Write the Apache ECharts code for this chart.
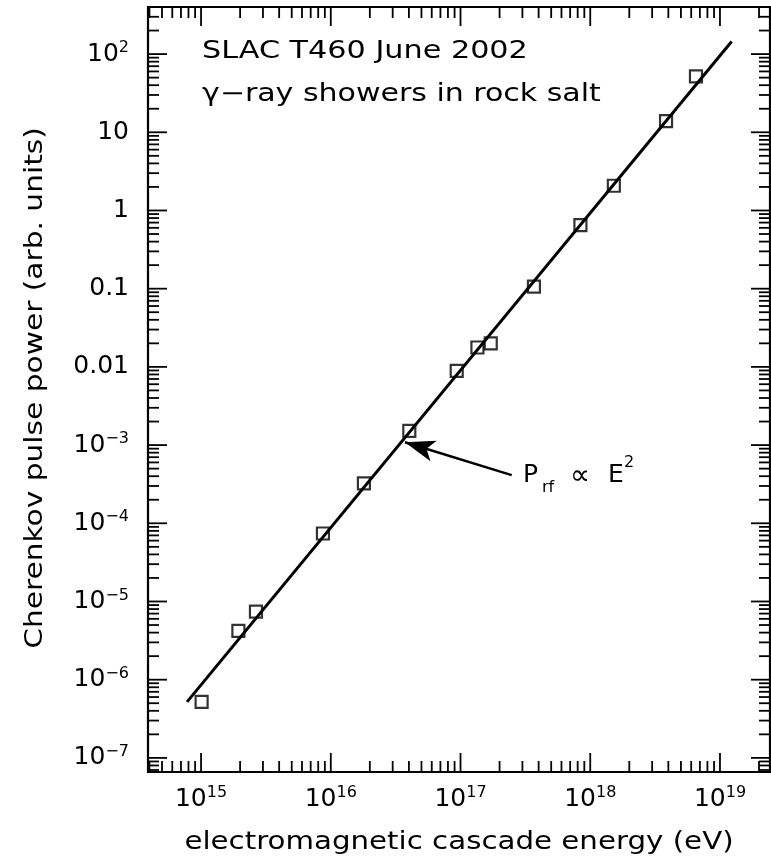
<!DOCTYPE html>
<html><head><meta charset="utf-8">
<script src="https://cdn.jsdelivr.net/npm/echarts@6/dist/echarts.min.js"></script>
<style>html,body{margin:0;padding:0;background:#fff}#c{width:771px;height:858px}</style>
</head><body><div id="c"></div><script>
// ---- data ----
const energy = [1.01e15, 1.94e15, 2.65e15, 8.7e15, 1.80e16, 4.03e16, 9.35e16, 1.35e17, 1.71e17, 3.68e17, 8.4e17, 1.52e18, 3.84e18, 6.53e18];
const power  = [5.2e-7, 4.2e-6, 7.4e-6, 7.4e-5, 3.24e-4, 1.52e-3, 8.9e-3, 1.77e-2, 2.0e-2, 0.106, 0.65, 2.07, 13.9, 52];
const fitEnergy = [7.8e14, 1.23e19];
const fitPower  = [5.2e-7, 1.45e2];
const arrowEnergy = [2.48e17, 3.73e16];
const arrowPower  = [4.13e-4, 1.09e-3];
const xTickExps = [15, 16, 17, 18, 19];
const xTickBase = ['10', '10', '10', '10', '10'];
const xTickSup  = ['15', '16', '17', '18', '19'];
const yTickExps = [-7, -6, -5, -4, -3, -2, -1, 0, 1, 2];
const yTickBase = ['10', '10', '10', '10', '10', '0.01', '0.1', '1', '10', '10'];
const yTickSup  = ['−7', '−6', '−5', '−4', '−3', '', '', '', '', '2'];
const minorMantissas = [2, 3, 4, 5, 6, 7, 8, 9];
const xMin = 3.9e14, xMax = 2.43e19, yMin = 6.6e-8, yMax = 400;

const FONT = '"DejaVu Sans", sans-serif';

// tick marks on all four sides (major at decades, minor at 2..9)
const tickData = [];
for (let k = 14; k <= 19; k++) {
  const d = Math.pow(10, k);
  if (d > xMin && d < xMax) tickData.push([d, 1, 0]);
  minorMantissas.forEach(m => { const v = m * d; if (v > xMin && v < xMax) tickData.push([v, 1, 1]); });
}
for (let k = -8; k <= 2; k++) {
  const d = Math.pow(10, k);
  if (d > yMin && d < yMax) tickData.push([1e16, d, 2]);
  minorMantissas.forEach(m => { const v = m * d; if (v > yMin && v < yMax) tickData.push([1e16, v, 3]); });
}

function renderTick(params, api) {
  const cs = params.coordSys;
  const kind = api.value(2);
  const p = api.coord([api.value(0), api.value(1)]);
  const len = (kind === 0 || kind === 2) ? 19 : 11;
  const style = { stroke: '#000', lineWidth: 1.8 };
  let shapes;
  if (kind < 2) {
    const x = p[0], b = cs.y + cs.height, t = cs.y;
    shapes = [
      { type: 'line', shape: { x1: x, y1: b, x2: x, y2: b - len }, style },
      { type: 'line', shape: { x1: x, y1: t, x2: x, y2: t + len }, style }
    ];
  } else {
    const y = p[1], l = cs.x, r = cs.x + cs.width;
    shapes = [
      { type: 'line', shape: { x1: l, y1: y, x2: l + len, y2: y }, style },
      { type: 'line', shape: { x1: r, y1: y, x2: r - len, y2: y }, style }
    ];
  }
  return { type: 'group', children: shapes };
}

function findExp(v, exps) {
  const e = Math.log10(v), r = Math.round(e);
  if (Math.abs(e - r) > 1e-6) return -1;
  return exps.indexOf(r);
}
const rich = {
  b: { fontFamily: FONT, fontSize: 25, lineHeight: 28, color: '#000' },
  s: { fontFamily: FONT, fontSize: 16, lineHeight: 18, verticalAlign: 'top', color: '#000' }
};

const chart = echarts.init(document.getElementById('c'), null, { renderer: 'canvas' });
chart.setOption({
  animation: false,
  backgroundColor: '#fff',
  grid: { left: 148, top: 7, right: 1, bottom: 86, show: true, borderColor: '#000', borderWidth: 2.2, backgroundColor: 'transparent' },
  xAxis: {
    type: 'log', logBase: 10, min: xMin, max: xMax, splitNumber: 5,
    axisLine: { show: false }, axisTick: { show: false }, splitLine: { show: false },
    axisLabel: {
      margin: 13, showMinLabel: false, showMaxLabel: false, rich,
      formatter: v => { const i = findExp(v, xTickExps); return i < 0 ? '' : '{b|' + xTickBase[i] + '}{s|' + xTickSup[i] + '}'; }
    }
  },
  yAxis: {
    type: 'log', logBase: 10, min: yMin, max: yMax, splitNumber: 10,
    axisLine: { show: false }, axisTick: { show: false }, splitLine: { show: false },
    axisLabel: {
      margin: 19, showMinLabel: false, showMaxLabel: false, rich,
      formatter: v => {
        const i = findExp(v, yTickExps);
        if (i < 0) return '';
        return yTickSup[i] ? '{b|' + yTickBase[i] + '}{s|' + yTickSup[i] + '}' : '{b|' + yTickBase[i] + '}';
      }
    }
  },
  series: [
    {
      type: 'custom', renderItem: renderTick, data: tickData, silent: true, z: 5,
      encode: { x: 0, y: 1 }, clip: false
    },
    {
      type: 'line', data: fitEnergy.map((e, i) => [e, fitPower[i]]), showSymbol: false, symbol: 'none',
      lineStyle: { color: '#000', width: 3 }, silent: true, z: 3,
      markLine: {
        silent: true, symbol: ['none', 'arrow'], symbolSize: [16, 30],
        label: { show: false },
        lineStyle: { color: '#000', width: 2.6, type: 'solid' },
        data: [[{ coord: [arrowEnergy[0], arrowPower[0]] }, { coord: [arrowEnergy[1], arrowPower[1]] }]]
      }
    },
    {
      type: 'scatter', data: energy.map((e, i) => [e, power[i]]), symbol: 'rect', symbolSize: 12,
      itemStyle: { color: 'rgba(0,0,0,0)', borderColor: '#000', borderWidth: 2.2 }, silent: true, z: 4
    }
  ],
  graphic: [
    { type: 'text', x: 202, y: 51.5, scaleX: 1.26, style: { text: 'SLAC T460 June 2002', fontFamily: FONT, fontSize: 24, fill: '#000', align: 'left', verticalAlign: 'middle' } },
    { type: 'text', x: 202, y: 94.5, scaleX: 1.25, style: { text: 'γ−ray showers in rock salt', fontFamily: FONT, fontSize: 24, fill: '#000', align: 'left', verticalAlign: 'middle' } },
    { type: 'text', x: 523, y: 475.5, style: { text: 'P', fontFamily: FONT, fontSize: 25, fill: '#000', align: 'left', verticalAlign: 'middle' } },
    { type: 'text', x: 542, y: 488, style: { text: 'rf', fontFamily: FONT, fontSize: 16, fill: '#000', align: 'left', verticalAlign: 'middle' } },
    { type: 'text', x: 580, y: 477, style: { text: '∝', fontFamily: FONT, fontSize: 28, fill: '#000', align: 'center', verticalAlign: 'middle' } },
    { type: 'text', x: 608, y: 475.5, style: { text: 'E', fontFamily: FONT, fontSize: 25, fill: '#000', align: 'left', verticalAlign: 'middle' } },
    { type: 'text', x: 624, y: 463, style: { text: '2', fontFamily: FONT, fontSize: 16, fill: '#000', align: 'left', verticalAlign: 'middle' } },
    { type: 'text', x: 459, y: 842.5, scaleX: 1.22, style: { text: 'electromagnetic cascade energy (eV)', fontFamily: FONT, fontSize: 24, fill: '#000', align: 'center', verticalAlign: 'middle' } },
    { type: 'text', x: 35.5, y: 388, rotation: Math.PI / 2, scaleX: 1.186, style: { text: 'Cherenkov pulse power (arb. units)', fontFamily: FONT, fontSize: 25, fill: '#000', align: 'center', verticalAlign: 'middle' } }
  ]
});
</script></body></html>
